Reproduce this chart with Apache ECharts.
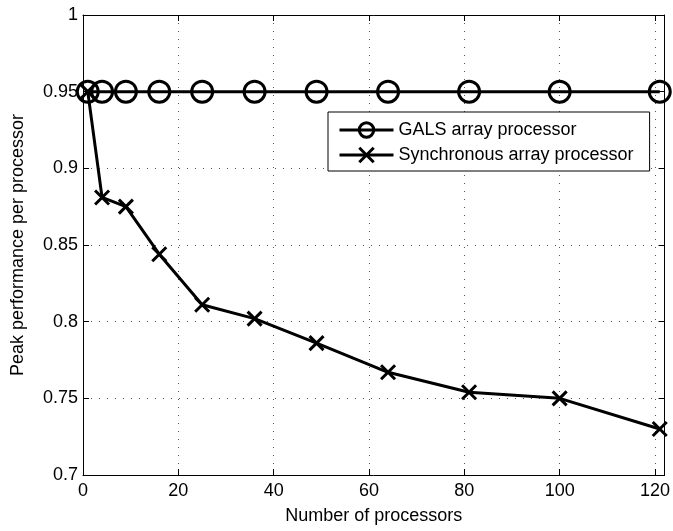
<!DOCTYPE html>
<html>
<head>
<meta charset="utf-8">
<script src="https://cdn.jsdelivr.net/npm/echarts@6/dist/echarts.min.js"></script>
<style>
    html, body { margin: 0; padding: 0; background: #fff; }
    #chart { width: 673px; height: 531px; }
</style>
</head>
<body>
<div id="chart"></div>
<script>
const processors = [1, 4, 9, 16, 25, 36, 49, 64, 81, 100, 121]
const galsPerf = [0.95, 0.95, 0.95, 0.95, 0.95, 0.95, 0.95, 0.95, 0.95, 0.95, 0.95]
const syncPerf = [0.95, 0.881, 0.875, 0.844, 0.811, 0.802, 0.786, 0.767, 0.754, 0.75, 0.73]

const chartDom = document.querySelector('#chart')

function pairs(xs, ys) {
    return xs.map((x, i) => [x, ys[i]])
}

function paintChart(dom) {
    let myChart = echarts.init(dom)
    const font = 'Liberation Sans'
    const frameAxis = {
        axisLine: { show: true, onZero: false, lineStyle: { color: '#000', width: 1 } },
        axisTick: { show: true, inside: true, length: 6, lineStyle: { color: '#000' } },
        axisLabel: { show: false },
        splitLine: { show: false },
    }
    let option = {
        animation: false,
        backgroundColor: '#fff',
        textStyle: { fontFamily: font, color: '#000' },
        grid: { left: 83, right: 5, top: 15, bottom: 56 },
        legend: {
            left: 328,
            top: 112,
            orient: 'vertical',
            backgroundColor: '#fff',
            borderColor: '#000',
            borderWidth: 1,
            borderRadius: 0,
            padding: [9, 16, 7, 10],
            itemWidth: 54,
            itemHeight: 18,
            itemGap: 7,
            lineStyle: { color: '#000', width: 3 },
            itemStyle: { borderColor: '#000', borderWidth: 3 },
            textStyle: { fontFamily: font, fontSize: 18, color: '#000' },
            data: ['GALS array processor', 'Synchronous array processor'],
        },
        xAxis: [
            {
                type: 'value',
                min: 0,
                max: 122,
                interval: 20,
                name: 'Number of processors',
                nameLocation: 'middle',
                nameGap: 32,
                nameTextStyle: { fontSize: 18, color: '#000' },
                axisLine: { onZero: false, lineStyle: { color: '#000' } },
                axisTick: { inside: true, length: 6, lineStyle: { color: '#000' } },
                axisLabel: {
                    fontSize: 18,
                    color: '#000',
                    margin: 7,
                    showMaxLabel: false,
                },
                splitLine: {
                    show: true,
                    lineStyle: { color: '#555', type: [1, 7], width: 1 },
                },
            },
            Object.assign({ type: 'value', position: 'top', min: 0, max: 122, interval: 20 }, frameAxis),
        ],
        yAxis: [
            {
                type: 'value',
                min: 0.7,
                max: 1,
                interval: 0.05,
                name: 'Peak performance per processor',
                nameLocation: 'middle',
                nameGap: 56,
                nameTextStyle: { fontSize: 18, color: '#000' },
                axisLine: { show: true, onZero: false, lineStyle: { color: '#000' } },
                axisTick: { show: true, inside: true, length: 6, lineStyle: { color: '#000' } },
                axisLabel: { fontSize: 18, color: '#000', margin: 5 },
                splitLine: {
                    show: true,
                    lineStyle: { color: '#555', type: [1, 7], width: 1 },
                },
            },
            Object.assign({ type: 'value', position: 'right', min: 0.7, max: 1, interval: 0.05 }, frameAxis),
        ],
        series: [
            {
                name: 'GALS array processor',
                type: 'line',
                data: pairs(processors, galsPerf),
                symbol: 'circle',
                symbolSize: 21,
                lineStyle: { color: '#000', width: 3 },
                itemStyle: { color: 'rgba(0,0,0,0)', borderColor: '#000', borderWidth: 3 },
                z: 3,
            },
            {
                name: 'Synchronous array processor',
                type: 'line',
                data: pairs(processors, syncPerf),
                symbol: 'path://M0,0L10,10M10,0L0,10',
                symbolSize: 14,
                lineStyle: { color: '#000', width: 3 },
                itemStyle: { color: 'rgba(0,0,0,0)', borderColor: '#000', borderWidth: 3 },
                z: 4,
            },
        ],
    }
    myChart.setOption(option)
}

paintChart(chartDom)
</script>
</body>
</html>
